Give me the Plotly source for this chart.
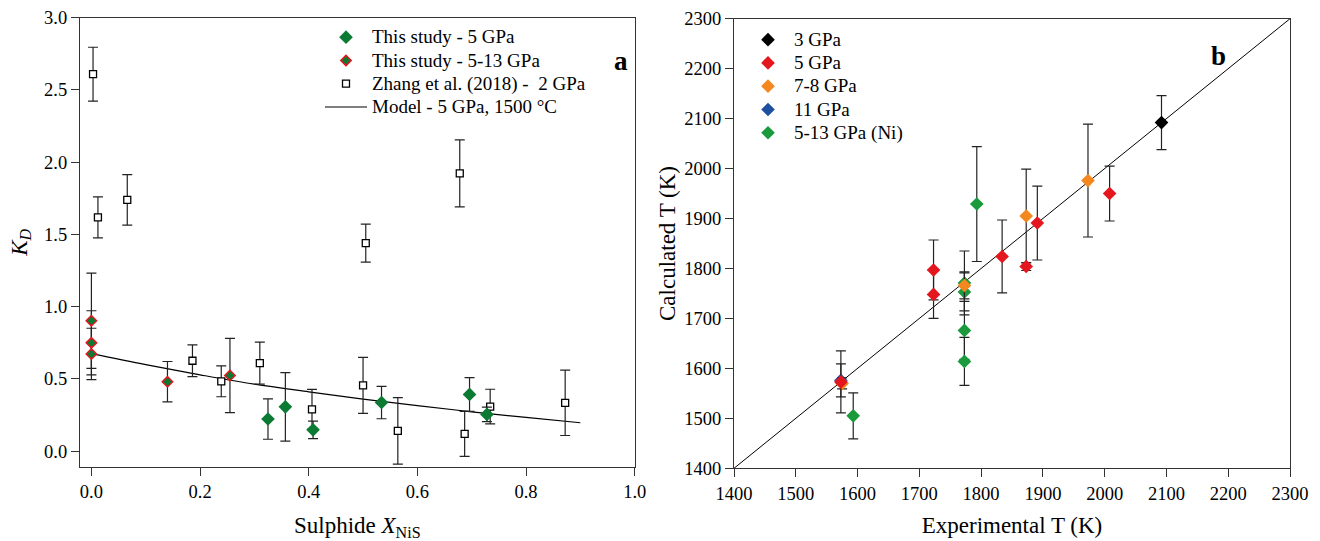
import plotly.graph_objects as go

# ---------------- Panel a data ----------------
# This study - 5 GPa (green diamonds)
a5_x = [0.325, 0.357, 0.408, 0.534, 0.696, 0.728]
a5_y = [0.222, 0.306, 0.147, 0.336, 0.392, 0.254]
a5_err = [0.14, 0.237, 0.06, 0.112, 0.117, 0.05]

# This study - 5-13 GPa (green diamonds with red outline)
a513_x = [0.0, 0.0, 0.0, 0.140, 0.255]
a513_y = [0.902, 0.749, 0.672, 0.480, 0.523]
a513_err = [0.33, 0.222, 0.178, 0.14, 0.257]

# Zhang et al. (2018) - 2 GPa (open squares)
zh_x = [0.003, 0.012, 0.066, 0.186, 0.239, 0.310, 0.406, 0.500, 0.505, 0.564, 0.678, 0.687, 0.734, 0.872]
zh_y = [2.608, 1.617, 1.738, 0.625, 0.483, 0.609, 0.289, 0.455, 1.439, 0.140, 1.922, 0.119, 0.308, 0.334]
zh_err = [0.186, 0.142, 0.175, 0.11, 0.107, 0.145, 0.138, 0.194, 0.131, 0.23, 0.232, 0.156, 0.12, 0.226]

# Model - 5 GPa, 1500 °C
model_x = [0.0, 0.1, 0.2, 0.3, 0.4, 0.5, 0.6, 0.7, 0.8, 0.9]
model_y = [0.674, 0.598, 0.528, 0.463, 0.410, 0.360, 0.315, 0.272, 0.233, 0.196]

# ---------------- Panel b data ----------------
b3_x, b3_y, b3_err = [2092], [2092], [54]
b5_x = [1573, 1723, 1723, 1834, 1873, 1891, 2008]
b5_y = [1573, 1797, 1748, 1824, 1804, 1891, 1950]
b5_err = [62, 60, 48, 73, 8, 74, 55]
b78_x = [1575, 1773, 1873, 1973]
b78_y = [1570, 1766, 1905, 1976]
b78_err = [11, 27, 94, 113]
b11_x, b11_y, b11_err = [1573], [1576], [33]
bni_x = [1593, 1773, 1773, 1773, 1773, 1793]
bni_y = [1505, 1771, 1753, 1676, 1614, 1929]
bni_err = [46, 64, 38, 58, 48, 115]
diag = [1400, 2300]

a_ticks = [0.0, 0.2, 0.4, 0.6, 0.8, 1.0]
a_yticks = [0.0, 0.5, 1.0, 1.5, 2.0, 2.5, 3.0]
b_ticks = list(range(1400, 2301, 100))

FONT = "Times New Roman, Liberation Serif, serif"
EC = "#222222"
GREEN_A = "#0b7a33"
RED = "#e4161e"
GREEN_B = "#1a9a3c"
ORANGE = "#f5871f"
BLUE = "#1f4fa0"
LEG_TXT = "<span style='font-size:19px'>{}</span>"


def eb(vals):
    return dict(type="data", array=vals, visible=True, color=EC, thickness=1.2, width=5)


fig = go.Figure()

# Panel a
fig.add_trace(go.Scatter(x=model_x, y=model_y, mode="lines", name=LEG_TXT.format("Model - 5 GPa, 1500 °C"),
                         line=dict(color="black", width=1.2, shape="spline"),
                         xaxis="x", yaxis="y", legendrank=4))
fig.add_trace(go.Scatter(x=zh_x, y=zh_y, mode="markers", name=LEG_TXT.format("Zhang et al. (2018) -  2 GPa"),
                         marker=dict(symbol="square", size=7, color="white", line=dict(color="black", width=1.3)),
                         error_y=eb(zh_err), xaxis="x", yaxis="y", legendrank=3))
fig.add_trace(go.Scatter(x=a513_x, y=a513_y, mode="markers", name=LEG_TXT.format("This study - 5-13 GPa"),
                         marker=dict(symbol="diamond", size=8, color=GREEN_A, line=dict(color=RED, width=1.5)),
                         error_y=eb(a513_err), xaxis="x", yaxis="y", legendrank=2))
fig.add_trace(go.Scatter(x=a5_x, y=a5_y, mode="markers", name=LEG_TXT.format("This study - 5 GPa"),
                         marker=dict(symbol="diamond", size=10.5, color=GREEN_A, line=dict(width=0)),
                         error_y=eb(a5_err), xaxis="x", yaxis="y", legendrank=1))

# Panel b
fig.add_trace(go.Scatter(x=diag, y=diag, mode="lines", showlegend=False,
                         line=dict(color="black", width=1), xaxis="x2", yaxis="y2"))
series_b = [
    ("5-13 GPa (Ni)", bni_x, bni_y, bni_err, GREEN_B, 5),
    ("11 GPa", b11_x, b11_y, b11_err, BLUE, 4),
    ("7-8 GPa", b78_x, b78_y, b78_err, ORANGE, 3),
    ("5 GPa", b5_x, b5_y, b5_err, RED, 2),
    ("3 GPa", b3_x, b3_y, b3_err, "black", 1),
]
for name, xs, ys, es, col, rank in series_b:
    fig.add_trace(go.Scatter(x=xs, y=ys, mode="markers", name=LEG_TXT.format(name),
                             marker=dict(symbol="diamond", size=10.5, color=col, line=dict(width=0)),
                             error_y=eb(es), xaxis="x2", yaxis="y2",
                             legend="legend2", legendrank=rank))

axis_common = dict(showline=True, linecolor="#333333", linewidth=1.2, mirror=True,
                   ticks="outside", ticklen=8, tickwidth=1.2, tickcolor="#333333",
                   showgrid=False, zeroline=False, automargin=False,
                   tickfont=dict(family=FONT, size=18.5, color="black"))

fig.update_layout(
    width=1320, height=541,
    margin=dict(l=0, r=0, t=0, b=0),
    paper_bgcolor="white", plot_bgcolor="white",
    font=dict(family=FONT, color="black"),
    xaxis=dict(domain=[80 / 1320, 634.7 / 1320], range=[-0.021, 1.0], tickvals=a_ticks,
               ticktext=[f"{v:.1f}" for v in a_ticks], anchor="y",
               title=dict(text="Sulphide <i>X</i><sub>NiS</sub>", font=dict(family=FONT, size=23), standoff=17),
               **axis_common),
    yaxis=dict(domain=[1 - 467 / 541, 1 - 17.5 / 541], range=[-0.11, 3.0], tickvals=a_yticks,
               ticktext=[f"{v:.1f}" for v in a_yticks], anchor="x",
               title=dict(text="<i>K</i><sub><i>D</i></sub>", font=dict(family=FONT, size=23), standoff=10),
               **axis_common),
    xaxis2=dict(domain=[734 / 1320, 1290 / 1320], range=[1400, 2300], tickvals=b_ticks, anchor="y2",
                title=dict(text="Experimental T (K)", font=dict(family=FONT, size=23), standoff=14),
                **axis_common),
    yaxis2=dict(domain=[1 - 468.3 / 541, 1 - 18.7 / 541], range=[1400, 2300], tickvals=b_ticks, anchor="x2",
                title=dict(text="Calculated T (K)", font=dict(family=FONT, size=23), standoff=2),
                **axis_common),
    legend=dict(x=320 / 1320, y=1 - 20.5 / 541, xanchor="left", yanchor="top",
                bgcolor="rgba(0,0,0,0)", font=dict(family=FONT, size=15.6), tracegroupgap=0,
                itemwidth=42),
    legend2=dict(x=742 / 1320, y=1 - 23 / 541, xanchor="left", yanchor="top",
                 bgcolor="rgba(0,0,0,0)", font=dict(family=FONT, size=15.6), tracegroupgap=0,
                 itemwidth=42),
    annotations=[
        dict(text="<b>a</b>", x=620.7 / 1320, y=1 - 44 / 541, xref="paper", yref="paper",
             showarrow=False, font=dict(family=FONT, size=27)),
        dict(text="<b>b</b>", x=1227.7 / 1320, y=1 - 38.6 / 541, xref="paper", yref="paper",
             showarrow=False, font=dict(family=FONT, size=27)),
    ],
)

fig.write_html("out.html", config={"displayModeBar": False},
               post_script="document.body.style.margin='0';document.body.style.overflow='hidden';")
